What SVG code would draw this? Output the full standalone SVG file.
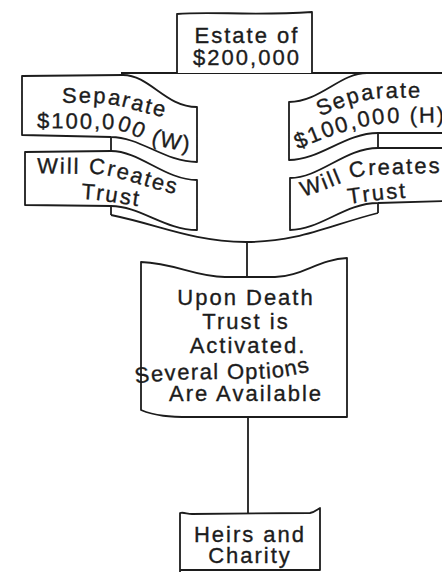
<svg xmlns="http://www.w3.org/2000/svg" width="442" height="572" viewBox="0 0 442 572">
<style>
.b{fill:#fff;stroke:#1c1c1c;stroke-width:1.8;stroke-linejoin:round}
.c{fill:none;stroke:#1c1c1c;stroke-width:1.8}
.t{font-family:"Liberation Sans",Arial,sans-serif;font-size:22px;fill:#1c1c1c;stroke:#1c1c1c;stroke-width:0.35;letter-spacing:2px}
.m{text-anchor:middle}
</style>
<defs>
<path id="pw1" d="M20,103 L95,103 C125,103 150,119 200,122"/>
<path id="pw2" d="M20,128 L110,129 C135,131 148,150 200,152"/>
<path id="pw3" d="M20,173 L95,174 C125,176 150,192 200,198"/>
<path id="pw4" d="M60,199 L85,199 C105,200 125,205 160,209"/>
<path id="ph1" d="M300,123 C330,115 350,99 385,98 L470,97"/>
<path id="ph2" d="M285,155 C320,140 350,126 390,123 L470,122"/>
<path id="ph3" d="M290,199 C320,195 345,179 365,175 L470,172"/>
<path id="ph4" d="M330,207 C355,203 380,199 420,197"/>
<path id="pu4" d="M128,385 C160,379 200,379 240,379 C270,379 290,378 320,368"/>
</defs>
<g id="connectors">
<path class="c" d="M121,73 L442,73"/>
<path class="c" d="M111,137 L111,151 M111,206 L111,215 M378,133 L378,148 M378,203 L378,213"/>
<path class="c" d="M111,215 C160,225 190,241 246,242 C300,242 330,225 378,213"/>
<path class="c" d="M247,242 L247,277"/>
<path class="c" d="M248,417 L248,513"/>
</g>
<g id="estate">
<path class="b" d="M177,73 L177,14 C210,11 250,16 312,12 L312,73"/>
<text class="t m" x="247" y="43">Estate of</text>
<text class="t m" x="247" y="65">$200,000</text>
</g>
<g id="separate-w">
<path class="b" d="M22,76 L123,75 C150,75 165,107 197,107 L197,162 C165,162 140,137 111,137 L22,135 Z"/>
<text class="t"><textPath href="#pw1" startOffset="42">Separate</textPath></text>
<text class="t"><textPath href="#pw2" startOffset="17">$100,000 (W)</textPath></text>
</g>
<g id="will-w">
<path class="b" d="M25,152 L111,151 C140,151 165,180 197,180 L197,230 C165,230 140,206 111,206 L25,205 Z"/>
<text class="t"><textPath href="#pw3" startOffset="17">Will Creates</textPath></text>
<text class="t"><textPath href="#pw4" startOffset="21">Trust</textPath></text>
</g>
<g id="separate-h">
<path class="b" d="M443,73 L367,73 C340,73 320,102 289,102 L289,160 C320,160 345,133 378,133 L443,133"/>
<text class="t"><textPath href="#ph1" startOffset="21">Separate</textPath></text>
<text class="t"><textPath href="#ph2" startOffset="14">$100,000 (H)</textPath></text>
</g>
<g id="will-h">
<path class="b" d="M443,148 L378,148 C345,148 320,178 290,178 L290,230 C320,230 345,203 378,203 L443,201"/>
<text class="t"><textPath href="#ph3" startOffset="13">Will Creates</textPath></text>
<text class="t"><textPath href="#ph4" startOffset="19">Trust</textPath></text>
</g>
<g id="upon-death">
<path class="b" d="M141,262 C175,263 195,277 225,277 L275,277 C300,277 320,259 347,258 L347,417 L190,417 C170,417 155,416 141,410 Z"/>
<text class="t m" x="246" y="305">Upon Death</text>
<text class="t m" x="246" y="329">Trust is</text>
<text class="t m" x="248" y="353">Activated.</text>
<text class="t" style="letter-spacing:1.3px"><textPath href="#pu4" startOffset="8">Several Options</textPath></text>
<text class="t m" x="246" y="401">Are Available</text>
</g>
<g id="heirs">
<path class="b" d="M180,572 L180,513 C184,512 187,514 192,514 L310,513 C315,512 318,509 320,508 L320,570 L180,570"/>
<text class="t m" x="250" y="542">Heirs and</text>
<text class="t m" x="250" y="563">Charity</text>
</g>
</svg>
